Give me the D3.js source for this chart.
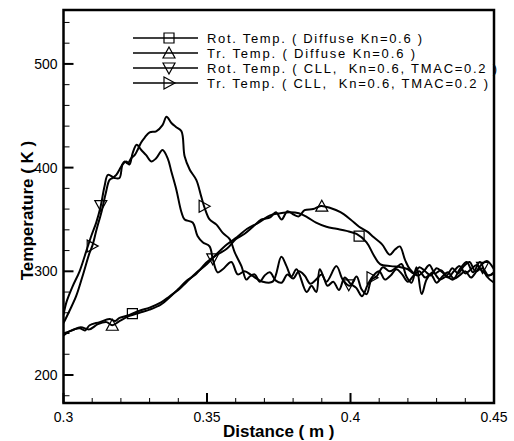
<!DOCTYPE html>
<html>
<head>
<meta charset="utf-8">
<script src="https://cdn.jsdelivr.net/npm/d3@7"></script>
<style>
  body { margin: 0; background: #fff; }
  text { font-family: "Liberation Sans", Arial, sans-serif; }
</style>
</head>
<body>
<div id="chart"></div>
<script>
// data: [distance (m), temperature (K)]
var rotDiffuse = [[0.3000,238],[0.3021,242],[0.3056,245],[0.3075,243],[0.3091,248],[0.3126,251],[0.3160,254],[0.3180,252],[0.3195,255],[0.3230,258],[0.3265,262],[0.3300,265],[0.3340,270],[0.3370,276],[0.3400,282],[0.3430,290],[0.3460,298],[0.3500,307],[0.3535,317],[0.3570,326],[0.3605,333],[0.3640,341],[0.3680,347],[0.3720,354],[0.3755,356],[0.3790,357],[0.3820,356],[0.3850,352],[0.3880,347],[0.3916,343],[0.3951,341],[0.3986,339],[0.4021,336],[0.4056,328],[0.4080,316],[0.4103,307],[0.4140,305],[0.4175,304],[0.4200,302],[0.4220,298],[0.4240,304],[0.4260,300],[0.4280,296],[0.4300,303],[0.4320,299],[0.4340,294],[0.4360,300],[0.4380,305],[0.4400,298],[0.4420,302],[0.4440,306],[0.4460,300],[0.4480,296],[0.4500,298]];

var trDiffuse = [[0.3000,240],[0.3030,243],[0.3060,246],[0.3090,244],[0.3120,249],[0.3150,251],[0.3170,248],[0.3195,252],[0.3230,257],[0.3265,260],[0.3300,263],[0.3340,268],[0.3370,275],[0.3400,283],[0.3430,291],[0.3460,297],[0.3500,309],[0.3535,316],[0.3570,322],[0.3600,331],[0.3630,336],[0.3660,343],[0.3690,350],[0.3720,352],[0.3740,357],[0.3760,350],[0.3780,358],[0.3800,355],[0.3820,353],[0.3840,359],[0.3870,360],[0.3897,363],[0.3930,361],[0.3965,357],[0.4000,350],[0.4030,343],[0.4060,338],[0.4080,333],[0.4110,326],[0.4137,316],[0.4155,321],[0.4172,324],[0.4190,311],[0.4207,302],[0.4235,296],[0.4255,300],[0.4275,306],[0.4295,298],[0.4315,301],[0.4335,296],[0.4355,303],[0.4375,298],[0.4395,305],[0.4415,309],[0.4435,300],[0.4455,306],[0.4475,310],[0.4500,302]];

var rotCLL = [[0.3000,258],[0.3010,270],[0.3031,285],[0.3056,300],[0.3080,320],[0.3098,335],[0.3114,347],[0.3129,362],[0.3143,382],[0.3155,393],[0.3178,390],[0.3195,390],[0.3206,403],[0.3219,406],[0.3230,403],[0.3241,414],[0.3255,422],[0.3271,417],[0.3288,412],[0.3306,406],[0.3323,409],[0.3345,417],[0.3363,409],[0.3376,396],[0.3393,379],[0.3411,357],[0.3422,350],[0.3450,347],[0.3467,334],[0.3485,328],[0.3509,324],[0.3520,312],[0.3537,299],[0.3555,302],[0.3585,309],[0.3607,297],[0.3631,300],[0.3656,296],[0.3694,290],[0.3729,290],[0.3759,314],[0.3777,305],[0.3794,295],[0.3812,302],[0.3847,280],[0.3864,286],[0.3881,280],[0.3893,302],[0.3916,290],[0.3951,305],[0.3973,292],[0.3998,286],[0.4021,295],[0.4038,283],[0.4056,278],[0.4073,292],[0.4091,295],[0.4113,304],[0.4137,300],[0.4161,304],[0.4178,307],[0.4195,295],[0.4213,289],[0.4230,304],[0.4248,278],[0.4265,292],[0.4287,299],[0.4312,292],[0.4335,295],[0.4357,292],[0.4381,302],[0.4405,309],[0.4427,299],[0.4451,309],[0.4475,295],[0.4500,289]];

var trCLL = [[0.3000,250],[0.3021,262],[0.3044,276],[0.3066,295],[0.3091,318],[0.3101,325],[0.3115,340],[0.3133,358],[0.3147,375],[0.3160,388],[0.3171,390],[0.3184,393],[0.3201,401],[0.3213,406],[0.3223,404],[0.3236,409],[0.3248,412],[0.3258,417],[0.3270,424],[0.3283,429],[0.3300,434],[0.3323,435],[0.3345,441],[0.3359,449],[0.3376,443],[0.3393,439],[0.3411,435],[0.3422,411],[0.3440,398],[0.3463,388],[0.3480,372],[0.3492,361],[0.3509,350],[0.3533,345],[0.3555,337],[0.3579,331],[0.3597,318],[0.3620,305],[0.3637,292],[0.3649,295],[0.3666,297],[0.3684,290],[0.3701,296],[0.3719,299],[0.3740,291],[0.3760,289],[0.3780,297],[0.3800,293],[0.3820,300],[0.3840,296],[0.3860,288],[0.3880,292],[0.3900,297],[0.3920,286],[0.3940,290],[0.3960,282],[0.3980,294],[0.4000,288],[0.4020,284],[0.4040,276],[0.4060,287],[0.4080,296],[0.4100,300],[0.4120,292],[0.4140,296],[0.4160,302],[0.4180,297],[0.4200,290],[0.4220,296],[0.4240,300],[0.4260,294],[0.4280,297],[0.4300,289],[0.4320,295],[0.4340,299],[0.4360,293],[0.4380,296],[0.4400,300],[0.4420,294],[0.4440,300],[0.4460,303],[0.4480,296],[0.4500,299]];

// where the symbols sit along each curve (distance)
var rotDiffuseMarks = [0.324, 0.403];
var trDiffuseMarks = [0.317, 0.390];
var rotCLLMarks = [0.313, 0.352, 0.3994, 0.446];
var trCLLMarks = [0.310, 0.349, 0.4075];

var legendLabels = [
  "Rot. Temp. ( Diffuse Kn=0.6 )",
  "Tr. Temp. ( Diffuse Kn=0.6 )",
  "Rot. Temp. ( CLL,  Kn=0.6, TMAC=0.2 )",
  "Tr. Temp. ( CLL,  Kn=0.6, TMAC=0.2 )"
];

var xTicks = [0.3, 0.35, 0.4, 0.45];
var xTickLabels = ["0.3", "0.35", "0.4", "0.45"];
var yTicks = [200, 300, 400, 500];
var yTickLabels = ["200", "300", "400", "500"];

var margin = { top: 10, right: 20, bottom: 38, left: 63.5 },
  width = 514 - margin.left - margin.right,
  height = 441 - margin.top - margin.bottom;

var svg = d3.select("#chart").append("svg")
  .attr("width", 514)
  .attr("height", 441);

var g = svg.append("g")
  .attr("transform", "translate(" + margin.left + "," + margin.top + ")");

var x = d3.scaleLinear().domain([0.3, 0.45]).range([0, width]);
var y = d3.scaleLinear().domain([173, 552]).range([height, 0]);

// symbol shapes, size ~10px
function symbolPath(kind) {
  var s = 5;
  if (kind == "square") return "M" + -s + "," + -s + "H" + s + "V" + s + "H" + -s + "Z";
  if (kind == "up") return "M0," + (-s - 1) + "L" + (s + 1) + "," + s + "L" + (-s - 1) + "," + s + "Z";
  if (kind == "down") return "M0," + (s + 1) + "L" + (s + 1) + "," + -s + "L" + (-s - 1) + "," + -s + "Z";
  return "M" + (s + 1) + ",0L" + -s + "," + (-s - 1) + "L" + -s + "," + (s + 1) + "Z";
}

var series = [
  { data: rotDiffuse, marks: rotDiffuseMarks, sym: "square" },
  { data: trDiffuse, marks: trDiffuseMarks, sym: "up" },
  { data: rotCLL, marks: rotCLLMarks, sym: "down" },
  { data: trCLL, marks: trCLLMarks, sym: "right" }
];

function valueAt(data, xv) {
  var i = d3.bisector(function (d) { return d[0]; }).left(data, xv);
  if (i <= 0) return data[0][1];
  if (i >= data.length) return data[data.length - 1][1];
  var a = data[i - 1], b = data[i];
  var t = (xv - a[0]) / (b[0] - a[0]);
  return a[1] + t * (b[1] - a[1]);
}

var line = d3.line()
  .x(function (d) { return x(d[0]); })
  .y(function (d) { return y(d[1]); })
  .curve(d3.curveCatmullRom);

g.append("defs").append("clipPath").attr("id", "clip")
  .append("rect").attr("width", width).attr("height", height);

var plot = g.append("g").attr("clip-path", "url(#clip)");

series.forEach(function (s) {
  plot.append("path")
    .datum(s.data)
    .attr("d", line)
    .attr("fill", "none")
    .attr("stroke", "#000")
    .attr("stroke-width", 2)
    .attr("stroke-linejoin", "round");

  plot.selectAll(null)
    .data(s.marks)
    .enter()
    .append("path")
    .attr("transform", function (d) {
      return "translate(" + x(d) + "," + y(valueAt(s.data, d)) + ")";
    })
    .attr("d", symbolPath(s.sym))
    .attr("fill", "none")
    .attr("stroke", "#000")
    .attr("stroke-width", 1.2);
});

// ticks (inward, tecplot style)
var xMinor = d3.range(0.31, 0.45, 0.01).filter(function (v) {
  return Math.abs(v - 0.35) > 1e-6 && Math.abs(v - 0.4) > 1e-6;
});
var yMinor = d3.range(180, 552, 20).filter(function (v) { return v % 100 != 0; });

g.selectAll(".xmaj").data(xTicks).enter().append("line")
  .attr("x1", function (d) { return x(d); }).attr("x2", function (d) { return x(d); })
  .attr("y1", height).attr("y2", height - 10)
  .attr("stroke", "#000").attr("stroke-width", 2);
g.selectAll(".xmin").data(xMinor).enter().append("line")
  .attr("x1", function (d) { return x(d); }).attr("x2", function (d) { return x(d); })
  .attr("y1", height).attr("y2", height - 5)
  .attr("stroke", "#000").attr("stroke-width", 1);
g.selectAll(".ymaj").data(yTicks).enter().append("line")
  .attr("x1", 0).attr("x2", 10)
  .attr("y1", function (d) { return y(d); }).attr("y2", function (d) { return y(d); })
  .attr("stroke", "#000").attr("stroke-width", 2);
g.selectAll(".ymin").data(yMinor).enter().append("line")
  .attr("x1", 0).attr("x2", 6)
  .attr("y1", function (d) { return y(d); }).attr("y2", function (d) { return y(d); })
  .attr("stroke", "#000").attr("stroke-width", 1);

g.selectAll(".xlab").data(xTicks).enter().append("text")
  .attr("x", function (d) { return x(d); })
  .attr("y", height + 19)
  .attr("text-anchor", "middle")
  .style("font-size", "14px")
  .text(function (d, i) { return xTickLabels[i]; });
g.selectAll(".ylab").data(yTicks).enter().append("text")
  .attr("x", -6)
  .attr("y", function (d) { return y(d) + 5; })
  .attr("text-anchor", "end")
  .style("font-size", "14px")
  .text(function (d, i) { return yTickLabels[i]; });

// frame
g.append("rect")
  .attr("width", width).attr("height", height)
  .attr("fill", "none").attr("stroke", "#000").attr("stroke-width", 2.5);

// axis titles
svg.append("text")
  .attr("x", margin.left + width / 2)
  .attr("y", 437)
  .attr("text-anchor", "middle")
  .style("font-size", "17px").style("font-weight", "bold")
  .text("Distance ( m )");
svg.append("text")
  .attr("transform", "translate(33," + (margin.top + height / 2 + 4) + ") rotate(-90)")
  .attr("text-anchor", "middle")
  .style("font-size", "17px").style("font-weight", "bold")
  .text("Temperature ( K )");

// legend
var legend = svg.append("g");
var legendWidths = [215, 208, 290, 281];
series.forEach(function (s, i) {
  var ly = 38 + i * 15;
  legend.append("line")
    .attr("x1", 133).attr("x2", 198).attr("y1", ly).attr("y2", ly)
    .attr("stroke", "#000").attr("stroke-width", 1.3);
  legend.append("path")
    .attr("transform", "translate(169," + ly + ")")
    .attr("d", symbolPath(s.sym))
    .attr("fill", "none").attr("stroke", "#000").attr("stroke-width", 1.2);
  legend.append("text")
    .attr("x", 207).attr("y", ly + 5)
    .attr("textLength", legendWidths[i])
    .attr("lengthAdjust", "spacing")
    .style("font-size", "13px")
    .style("white-space", "pre")
    .text(legendLabels[i]);
});
</script>
</body>
</html>
